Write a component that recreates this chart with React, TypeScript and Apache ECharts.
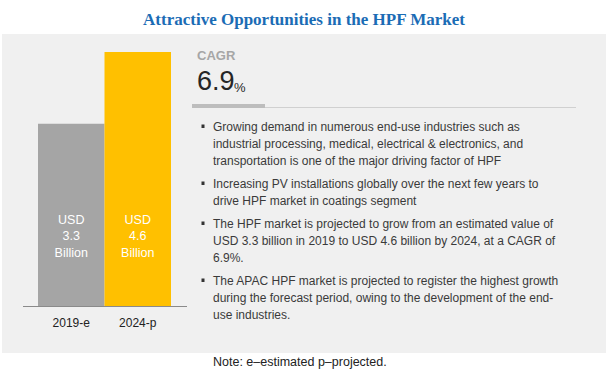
import React, { useEffect, useRef } from "react";
import * as echarts from "echarts";

const chartTitle = "Attractive Opportunities in the HPF Market";
const categories = ["2019-e", "2024-p"];
const marketValues = [3.3, 4.6];
const barColors = ["#a5a5a5", "#ffc000"];
const cagrLabel = "CAGR";
const cagrValue = "6.9";
const bullets: string[][] = [
  [
    "Growing demand in numerous end-use industries such as",
    "industrial processing, medical, electrical & electronics, and",
    "transportation is one of the major driving factor of HPF",
  ],
  [
    "Increasing PV installations globally over the next few years to",
    "drive HPF market in coatings segment",
  ],
  [
    "The HPF market is projected to grow from an estimated value of",
    "USD 3.3 billion in 2019 to USD 4.6 billion by 2024, at a CAGR of",
    "6.9%.",
  ],
  [
    "The APAC HPF market is projected to register the highest growth",
    "during the forecast period, owing to the development of the end-",
    "use industries.",
  ],
];
const noteText = "Note: e–estimated p–projected.";

export default function App() {
  const ref = useRef<HTMLDivElement>(null);
  useEffect(() => {
    if (!ref.current) return;
    const chart = echarts.init(ref.current, null, { renderer: "svg" });
    const sans = "'Liberation Sans', Arial, sans-serif";

    const graphics: any[] = [
      {
        type: "rect",
        z: -10,
        shape: { x: 2, y: 34, width: 604, height: 319 },
        style: { fill: "#f0f0f0" },
        silent: true,
      },
      {
        type: "line",
        shape: { x1: 23, y1: 306.5, x2: 187, y2: 306.5 },
        style: { stroke: "#8a8a8a", lineWidth: 1 },
        z: 10,
      },
      {
        type: "text",
        x: 197,
        y: 55,
        style: {
          text: cagrLabel,
          fill: "#a6a6a6",
          fontSize: 13,
          fontWeight: "bold",
          fontFamily: sans,
          verticalAlign: "middle",
        },
      },
      {
        type: "text",
        x: 197,
        y: 94,
        style: {
          text: cagrValue,
          fill: "#262626",
          fontSize: 27,
          fontFamily: sans,
          verticalAlign: "bottom",
        },
      },
      {
        type: "text",
        x: 234,
        y: 94,
        style: {
          text: "%",
          fill: "#262626",
          fontSize: 13,
          fontFamily: sans,
          verticalAlign: "bottom",
        },
      },
      {
        type: "line",
        shape: { x1: 192, y1: 107.5, x2: 576, y2: 107.5 },
        style: { stroke: "#d0d0d0", lineWidth: 1 },
      },
      {
        type: "rect",
        shape: { x: 192, y: 104, width: 73, height: 4 },
        style: { fill: "#bdbdbd" },
      },
      {
        type: "text",
        x: 213,
        y: 362,
        style: {
          text: noteText,
          fill: "#222",
          fontSize: 12.5,
          fontFamily: sans,
          verticalAlign: "middle",
        },
      },
    ];

    const bulletStarts = [127, 184, 224, 281];
    const lineGap = 17;
    bullets.forEach((lines, bi) => {
      const y0 = bulletStarts[bi];
      graphics.push({
        type: "rect",
        shape: { x: 201.5, y: y0 - 2.5, width: 3, height: 3.5 },
        style: { fill: "#333" },
      });
      lines.forEach((line, li) => {
        graphics.push({
          type: "text",
          x: 213,
          y: y0 + li * lineGap,
          style: {
            text: line,
            fill: "#3a3a3a",
            fontSize: 12,
            fontFamily: sans,
            verticalAlign: "middle",
          },
        });
      });
    });

    chart.setOption({
      animation: false,
      backgroundColor: "#ffffff",
      title: {
        text: chartTitle,
        left: "center",
        top: 6,
        textStyle: {
          color: "#1b6cb5",
          fontSize: 17,
          fontWeight: "bold",
          fontFamily: "'Liberation Serif', 'DejaVu Serif', serif",
        },
      },
      grid: { left: 38, right: 437, top: 30, bottom: 71 },
      xAxis: {
        type: "category",
        data: categories,
        axisLine: { show: false },
        axisTick: { show: false },
        axisLabel: {
          margin: 11,
          color: "#222",
          fontSize: 12,
          fontFamily: sans,
        },
      },
      yAxis: {
        type: "value",
        min: 0,
        max: 5,
        show: false,
        splitLine: { show: false },
      },
      series: [
        {
          type: "bar",
          barCategoryGap: "0%",
          data: marketValues.map((v, i) => ({
            value: v,
            itemStyle: { color: barColors[i] },
          })),
          label: {
            show: true,
            position: "insideBottom",
            distance: 45,
            formatter: (p: any) => `USD\n${p.value.toFixed(1)}\nBillion`,
            color: "#ffffff",
            fontSize: 12.5,
            lineHeight: 16.5,
            fontFamily: sans,
          },
        },
      ],
      graphic: graphics,
    });
    return () => chart.dispose();
  }, []);
  return (
    <div
      ref={ref}
      style={{ position: "fixed", left: 0, top: 0, width: 608, height: 377 }}
    />
  );
}
